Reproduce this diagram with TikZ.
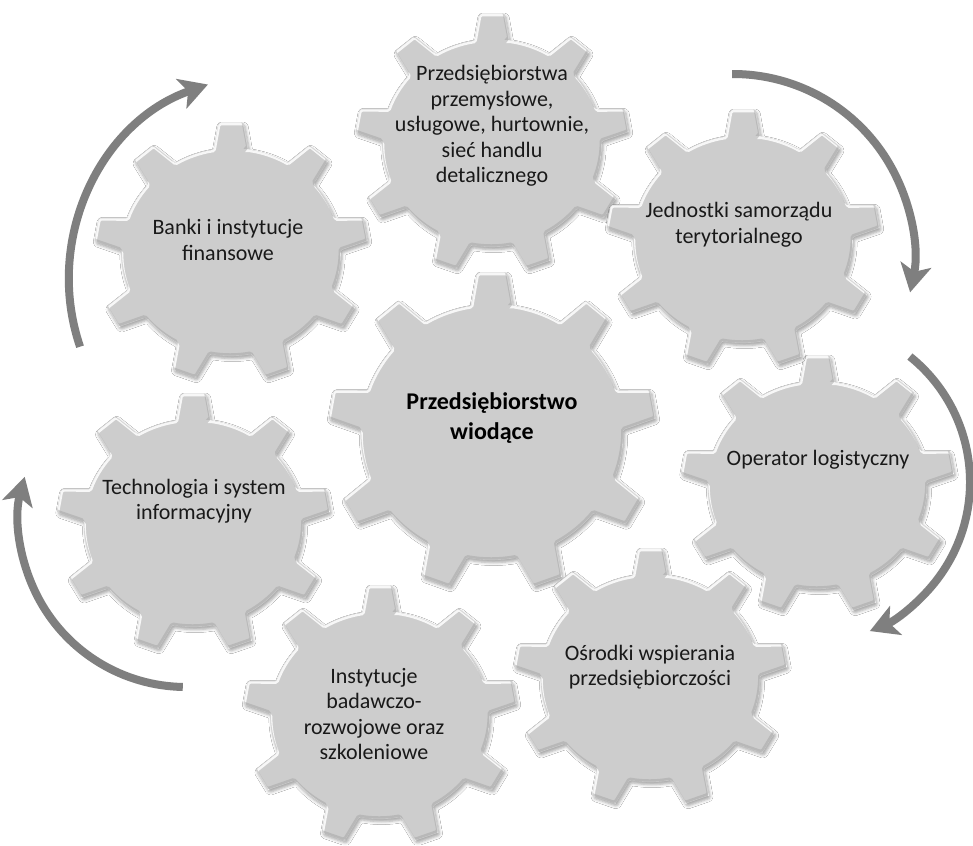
\documentclass[tikz,border=0pt]{standalone}
\usepackage{fontspec}
\setmainfont{Carlito}
\usetikzlibrary{arrows.meta,shadows.blur}
\definecolor{gearfill}{RGB}{205,205,205}
\definecolor{arrowgray}{RGB}{127,127,127}
\tikzset{
  gearbody/.style={fill=gearfill, rounded corners=1.5pt, blur shadow={shadow xshift=1.5pt, shadow yshift=-2.5pt, shadow blur radius=3pt, shadow opacity=35}},
  bevellight/.style={draw=white, line width=2.4pt, opacity=0.85, rounded corners=1.5pt},
  beveldark/.style={draw=black!40, line width=2.4pt, opacity=0.4, rounded corners=1.5pt},
  gearlabel/.style={font=\fontsize{22}{25.5}\selectfont, align=center, inner sep=0pt, text=black!90},
  hublabel/.style={font=\bfseries\fontsize{24}{30}\selectfont, align=center, inner sep=0pt, text=black},
  cyclearrow/.style={draw=arrowgray, line width=8pt, -{Stealth[length=28pt,width=31pt,inset=7pt]}}
}
% #1 = centre x (px), #2 = centre y (px, downwards), #3 = x radius, #4 = y radius
\newcommand{\gearoutline}[4]{%
  ({(#1)+0.8*(#3)*cos(80.9)},{-(#2)+0.8*(#4)*sin(80.9)})
  \foreach \k in {0,...,8}{
    -- ({(#1)+(#3)*cos(90+40*\k-5.2)},{-(#2)+(#4)*sin(90+40*\k-5.2)})
    -- ({(#1)+(#3)*cos(90+40*\k+5.2)},{-(#2)+(#4)*sin(90+40*\k+5.2)})
    -- ({(#1)+0.8*(#3)*cos(90+40*\k+9.1)},{-(#2)+0.8*(#4)*sin(90+40*\k+9.1)})
    arc[start angle={90+40*\k+9.1}, delta angle=21.8, x radius={0.8*(#3)}, y radius={0.8*(#4)}]
  } -- cycle}
\newcommand{\drawgear}[4]{%
  \path[gearbody] \gearoutline{#1}{#2}{#3}{#4};
  \begin{scope}
    \clip \gearoutline{#1}{#2}{#3}{#4};
    \path[bevellight] \gearoutline{#1+0.8}{#2+1.6}{#3}{#4};
    \path[beveldark] \gearoutline{#1-0.8}{#2-1.6}{#3}{#4};
  \end{scope}}
\begin{document}
\begin{tikzpicture}[x=1pt,y=1pt]
\path[use as bounding box, fill=white] (0,0) rectangle (973,-845);

% gears
\drawgear{492}{432}{164}{160}
\drawgear{492}{143}{137}{130}
\drawgear{231}{252}{137}{130}
\drawgear{193.5}{523}{137}{130}
\drawgear{380}{715}{137}{130}
\drawgear{650.5}{678}{137}{130}
\drawgear{817.5}{485}{137}{130}
\drawgear{743}{239}{137}{130}

% texts
\node[hublabel] (hub) at (492,-418) {Przedsiębiorstwo\\wiodące};
\node[gearlabel] (przed) at (492,-126) {Przedsiębiorstwa\\przemysłowe,\\usługowe, hurtownie,\\sieć handlu\\detalicznego};
\node[gearlabel] (banki) at (228,-240) {Banki i instytucje\\finansowe};
\node[gearlabel] (jst) at (739,-225) {Jednostki samorządu\\terytorialnego};
\node[gearlabel] (oper) at (818,-460) {Operator logistyczny};
\node[gearlabel] (osrod) at (650,-667) {Ośrodki wspierania\\przedsiębiorczości};
\node[gearlabel] (inst) at (374,-714) {Instytucje\\badawczo-\\rozwojowe oraz\\szkoleniowe};
\node[gearlabel] (tech) at (194,-501) {Technologia i system\\informacyjny};

% cycle arrows
\coordinate (a1s) at ({276+207*cos(198.8)},{-280+207*sin(198.8)});
\coordinate (a2s) at ({733+181*cos(90.3)},{-255+181*sin(90.3)});
\coordinate (a3s) at ({809+161*cos(51.2)},{-482+161*sin(51.2)});
\coordinate (a4s) at ({186+167*cos(268.9)},{-520+167*sin(268.9)});
\draw[cyclearrow] (a1s) arc[start angle=198.8, end angle=109.2, radius=207];
\draw[cyclearrow] (a2s) arc[start angle=90.3, end angle=-11.9, radius=181];
\draw[cyclearrow] (a3s) arc[start angle=51.2, end angle=-67.8, radius=161];
\draw[cyclearrow] (a4s) arc[start angle=268.9, end angle=165, radius=167];
\end{tikzpicture}
\end{document}
